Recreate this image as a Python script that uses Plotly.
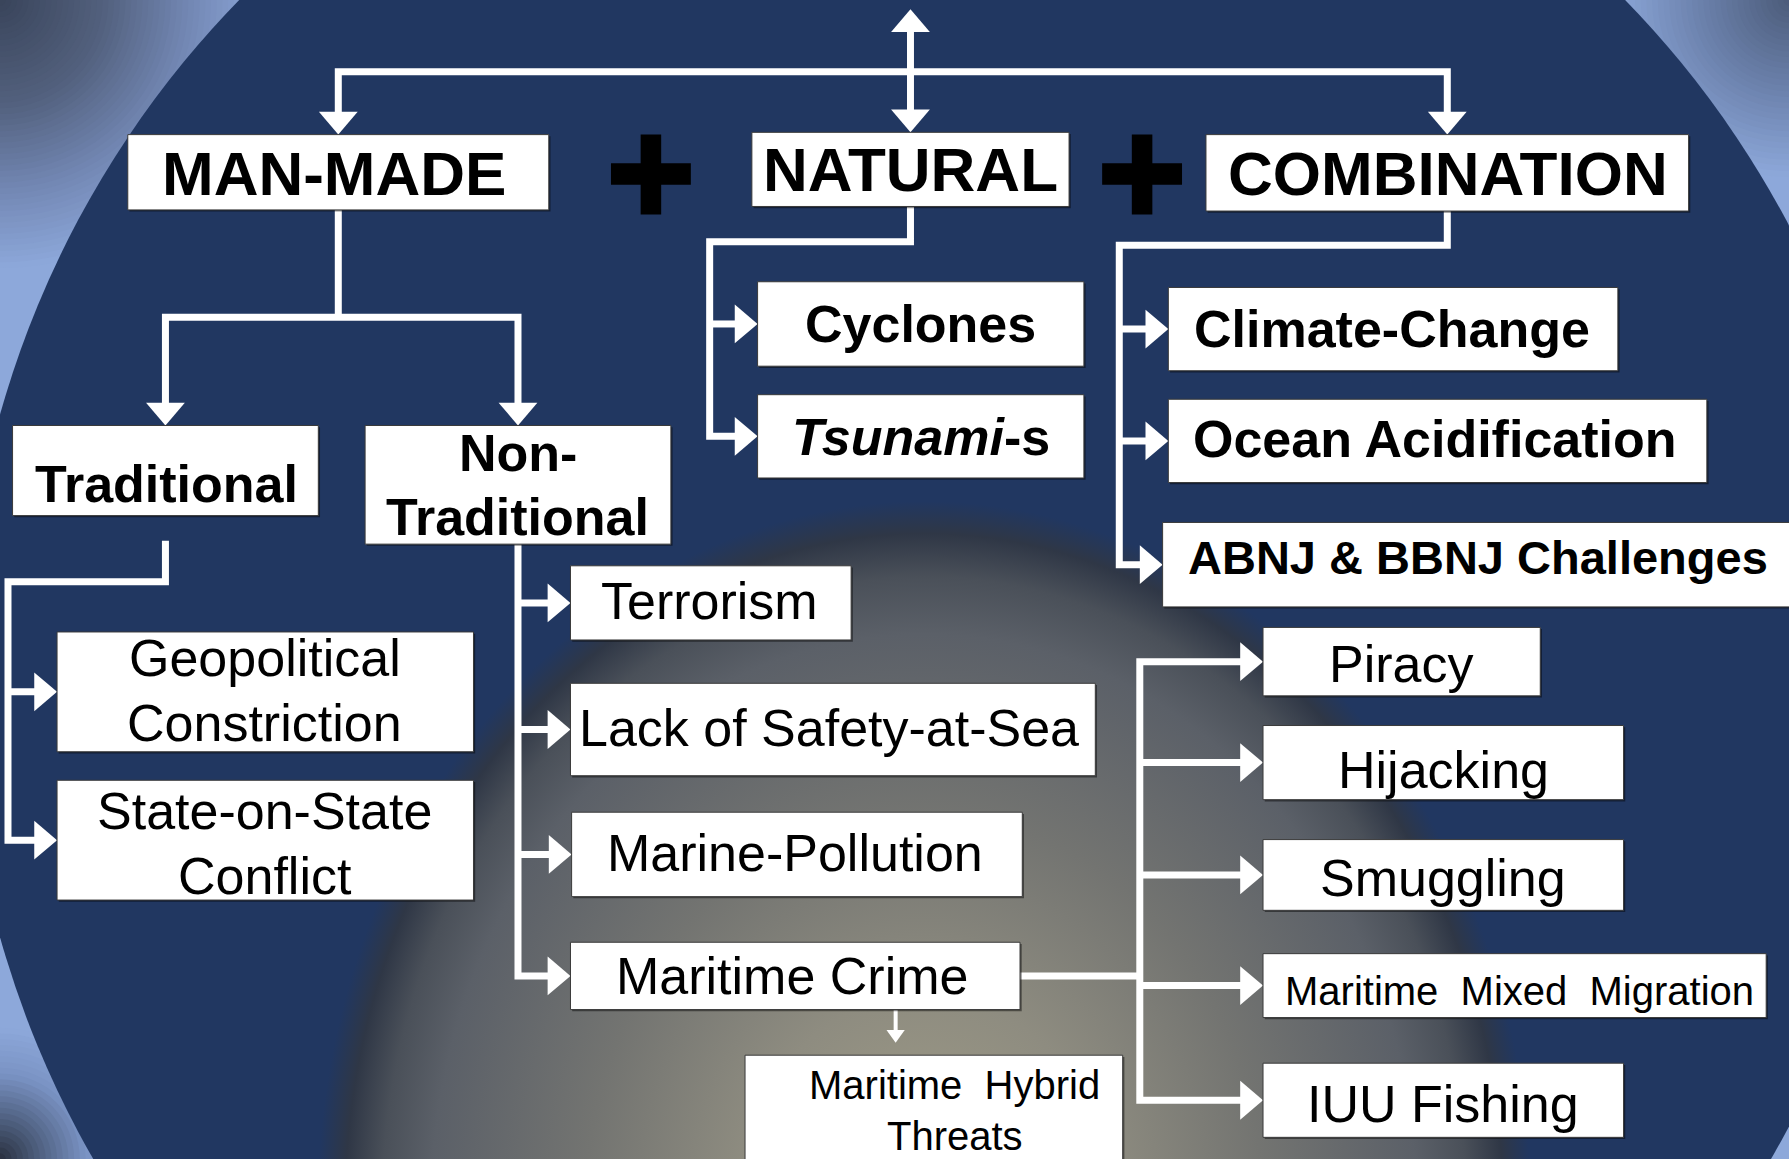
import plotly.graph_objects as go

# ---------------- colours ----------------
NAVY = "#213761"
LIGHT = "#8da8da"
WHITE = "#ffffff"
FONT = "Liberation Sans, Arial, sans-serif"

# ---------------- nodes (boxes) ----------------
box_names = ["manmade", "natural", "combination", "cyclones", "tsunami", "climate", "ocean", "abnj",
             "traditional", "nontrad", "geo", "state", "terrorism", "lack", "marine", "crime",
             "piracy", "hijacking", "smuggling", "mixed", "iuu", "hybrid"]
box_x0 = [112, 659, 1057, 664, 664, 1024, 1024, 1019, 11, 320, 50, 50, 500, 500, 501, 500,
          1107, 1107, 1107, 1107, 1107, 653]
box_x1 = [481, 937, 1480, 950, 950, 1418, 1496, 1575, 279, 588, 415, 415, 746, 960, 896, 894,
          1350, 1423, 1423, 1548, 1423, 984]
box_y0 = [118, 116, 118, 247, 346, 252, 350, 458, 373, 373, 554, 684, 496, 599, 712, 826,
          550, 636, 736, 836, 932, 925]
box_y1 = [184, 181, 185, 321, 419, 325, 423, 532, 452, 477, 659, 789, 561, 680, 786, 885,
          610, 701, 798, 892, 997, 1030]

# ---------------- labels ----------------
box_lines = [["MAN-MADE"], ["NATURAL"], ["COMBINATION"], ["Cyclones"], ["<i>Tsunami</i>-s"],
             ["Climate-Change"], ["Ocean Acidification"], ["ABNJ &amp; BBNJ Challenges"],
             ["Traditional"], ["Non-", "Traditional"], ["Geopolitical", "Constriction"],
             ["State-on-State", "Conflict"], ["Terrorism"], ["Lack of Safety-at-Sea"],
             ["Marine-Pollution"], ["Maritime Crime"], ["Piracy"], ["Hijacking"], ["Smuggling"],
             ["Maritime  Mixed  Migration"], ["IUU Fishing"], ["Maritime  Hybrid", "Threats"]]
text_cx = [293, 798, 1269, 807, 807, 1220, 1258, 1295, 146, 454, 232, 232, 622, 727, 697, 694,
           1228, 1265, 1265, 1332, 1265, 837]
text_cy = [[152], [149], [152], [284], [383], [288], [385], [489], [424.5], [397.5, 453],
           [577, 634], [711, 768], [527], [638], [748], [856], [582], [675], [770], [869],
           [968], [951, 996]]
text_size = [62, 62, 62, 52, 52, 52, 52, 47, 52, 52, 52, 52, 52, 52, 52, 52, 52, 52, 52, 40, 52, 40]
text_bold = [True] * 10 + [False] * 12

# ---------------- background: navy disc, shaded corners, warm glow ----------------
disc_cx, disc_cy, disc_r = 817, 592.5, 848.5
corner_x = [0, 1568, 0]
corner_y = [0, 0, 1016]
corner_stops = [
    [(0, "#39445a"), (90, "#52607d"), (170, "#7489b6"), (235, LIGHT)],
    [(0, "#4c5c7a"), (80, "#6c82ad"), (155, LIGHT)],
    [(0, "#29303e"), (35, "#4f6080"), (75, "#7a93c4"), (115, LIGHT)],
]
glow_cx, glow_cy, glow_rx, glow_ry = 810, 1060, 540, 630

B = {n: (x0, x1, y0, y1) for n, x0, x1, y0, y1 in zip(box_names, box_x0, box_x1, box_y0, box_y1)}


def cxb(n):
    return (B[n][0] + B[n][1]) / 2


def cyb(n):
    return (B[n][2] + B[n][3]) / 2


def left(n):
    return B[n][0]


def right(n):
    return B[n][1]


def top(n):
    return B[n][2]


def bottom(n):
    return B[n][3]


def hex2rgb(h):
    h = h.lstrip("#")
    return [int(h[i:i + 2], 16) for i in (0, 2, 4)]


def stop_color(stops, d):
    for (d0, c0), (d1, c1) in zip(stops[:-1], stops[1:]):
        if d0 <= d <= d1:
            t = (d - d0) / (d1 - d0)
            a, b = hex2rgb(c0), hex2rgb(c1)
            return "rgb({},{},{})".format(*[round(a[i] + (b[i] - a[i]) * t) for i in range(3)])
    return stops[-1][1]


fig = go.Figure()
shapes = []

# shaded corners: stepped concentric discs (largest / lightest first)
for cx0, cy0, stops in zip(corner_x, corner_y, corner_stops):
    rmax = stops[-1][0]
    step = 5
    r = rmax
    while r > 0:
        shapes.append(dict(type="circle", xref="x", yref="y", x0=cx0 - r, x1=cx0 + r, y0=cy0 - r, y1=cy0 + r,
                           fillcolor=stop_color(stops, r - step / 2), line=dict(width=0), layer="below"))
        r -= step

# navy disc
shapes.append(dict(type="circle", xref="x", yref="y",
                   x0=disc_cx - disc_r, x1=disc_cx + disc_r, y0=disc_cy - disc_r, y1=disc_cy + disc_r,
                   fillcolor=NAVY, line=dict(width=0), layer="below"))

# warm glow in lower middle
fig.add_trace(go.Scatter(
    x=[glow_cx - glow_rx, glow_cx + glow_rx, glow_cx + glow_rx, glow_cx - glow_rx, glow_cx - glow_rx],
    y=[glow_cy - glow_ry, glow_cy - glow_ry, glow_cy + glow_ry, glow_cy + glow_ry, glow_cy - glow_ry],
    mode="lines", fill="toself", line=dict(width=0, color="rgba(0,0,0,0)"),
    fillgradient=dict(type="radial", colorscale=[
        [0.0, "#a39f88"], [0.3, "#8e8c80"], [0.55, "#737471"], [0.8, "#5b6068"],
        [0.88, "#4a5059"], [0.94, "#2f3746"], [0.985, "rgba(33,55,97,1)"], [1.0, "rgba(33,55,97,0)"]]),
    hoverinfo="skip", showlegend=False))

LW = 7


def poly(points, width=LW):
    d = "M " + " L ".join(f"{x},{y}" for x, y in points)
    shapes.append(dict(type="path", path=d, line=dict(color=WHITE, width=width), layer="above"))


def head(tx, ty, direction, length=20, half=17):
    if direction == "right":
        pts = [(tx, ty), (tx - length, ty - half), (tx - length, ty + half)]
    elif direction == "down":
        pts = [(tx, ty), (tx - half, ty - length), (tx + half, ty - length)]
    else:  # up
        pts = [(tx, ty), (tx - half, ty + length), (tx + half, ty + length)]
    d = "M " + " L ".join(f"{x},{y}" for x, y in pts) + " Z"
    shapes.append(dict(type="path", path=d, fillcolor=WHITE, line=dict(width=0), layer="above"))


# ---------------- connectors ----------------
top_tip, top_bar = 8, 63
nat_x = cxb("natural")
poly([(nat_x, top_tip + 15), (nat_x, top("natural") - 15)])
poly([(cxb("manmade"), top("manmade") - 15), (cxb("manmade"), top_bar),
      (cxb("combination"), top_bar), (cxb("combination"), top("combination") - 15)])
head(nat_x, top_tip, "up")
head(nat_x, top("natural"), "down")
head(cxb("manmade"), top("manmade"), "down")
head(cxb("combination"), top("combination"), "down")

# MAN-MADE branches
mm_bar = 278
poly([(cxb("manmade"), bottom("manmade")), (cxb("manmade"), mm_bar)])
poly([(cxb("traditional"), top("traditional") - 15), (cxb("traditional"), mm_bar),
      (cxb("nontrad"), mm_bar), (cxb("nontrad"), top("nontrad") - 15)])
head(cxb("traditional"), top("traditional"), "down")
head(cxb("nontrad"), top("nontrad"), "down")

# NATURAL branches
nat_bar, nat_trunk = 212, 622
poly([(nat_x, bottom("natural")), (nat_x, nat_bar), (nat_trunk, nat_bar), (nat_trunk, cyb("tsunami")),
      (left("tsunami") - 15, cyb("tsunami"))])
poly([(nat_trunk, cyb("cyclones")), (left("cyclones") - 15, cyb("cyclones"))])
for n in ["cyclones", "tsunami"]:
    head(left(n), cyb(n), "right")

# COMBINATION branches
comb_bar, comb_trunk = 215, 981
poly([(cxb("combination"), bottom("combination")), (cxb("combination"), comb_bar),
      (comb_trunk, comb_bar), (comb_trunk, cyb("abnj")), (left("abnj") - 15, cyb("abnj"))])
for n in ["climate", "ocean"]:
    poly([(comb_trunk, cyb(n)), (left(n) - 15, cyb(n))])
for n in ["climate", "ocean", "abnj"]:
    head(left(n), cyb(n), "right")

# Traditional branches
trad_start, trad_bar, trad_trunk = 474, 510, 7
poly([(cxb("traditional"), trad_start), (cxb("traditional"), trad_bar), (trad_trunk, trad_bar),
      (trad_trunk, cyb("state")), (left("state") - 15, cyb("state"))])
poly([(trad_trunk, cyb("geo")), (left("geo") - 15, cyb("geo"))])
for n in ["geo", "state"]:
    head(left(n), cyb(n), "right")

# Non-Traditional branches
nt_x = cxb("nontrad")
poly([(nt_x, bottom("nontrad")), (nt_x, cyb("crime")), (left("crime") - 15, cyb("crime"))])
for n in ["terrorism", "lack", "marine"]:
    poly([(nt_x, cyb(n)), (left(n) - 15, cyb(n))])
for n in ["terrorism", "lack", "marine", "crime"]:
    head(left(n), cyb(n), "right")

# Maritime crime branches
mc_trunk = 999
poly([(right("crime"), cyb("crime")), (mc_trunk, cyb("crime"))])
poly([(left("piracy") - 15, cyb("piracy")), (mc_trunk, cyb("piracy")), (mc_trunk, cyb("iuu")),
      (left("iuu") - 15, cyb("iuu"))])
for n in ["hijacking", "smuggling", "mixed"]:
    poly([(mc_trunk, cyb(n)), (left(n) - 15, cyb(n))])
for n in ["piracy", "hijacking", "smuggling", "mixed", "iuu"]:
    head(left(n), cyb(n), "right")

# Hybrid threats
hy_x = 785
poly([(hy_x, bottom("crime")), (hy_x, top("hybrid") - 18)], width=4)
head(hy_x, top("hybrid") - 11, "down", length=11, half=8)

# ---------------- boxes ----------------
for n in box_names:
    x0, x1, y0, y1 = B[n]
    shapes.append(dict(type="rect", x0=x0 + 1.5, x1=x1 + 1.5, y0=y0 + 1.5, y1=y1 + 1.5,
                       fillcolor="rgba(0,0,0,0.45)", line=dict(width=0), layer="above"))
    shapes.append(dict(type="rect", x0=x0, x1=x1, y0=y0, y1=y1, fillcolor=WHITE,
                       line=dict(color="#3a3a3a", width=1), layer="above"))

# ---------------- plus signs ----------------
for pcx in [570.5, 1001]:
    shapes.append(dict(type="rect", x0=pcx - 35, x1=pcx + 35, y0=143, y1=162, fillcolor="#000000",
                       line=dict(width=0), layer="above"))
    shapes.append(dict(type="rect", x0=pcx - 9, x1=pcx + 9, y0=118, y1=188, fillcolor="#000000",
                       line=dict(width=0), layer="above"))

# ---------------- text ----------------
annotations = []
for lines, tx, tys, size, bold in zip(box_lines, text_cx, text_cy, text_size, text_bold):
    for line, ty in zip(lines, tys):
        txt = f"<b>{line}</b>" if bold else line
        annotations.append(dict(x=tx, y=ty, xref="x", yref="y", text=txt, showarrow=False,
                                xanchor="center", yanchor="middle",
                                font=dict(family=FONT, size=size, color="#000000")))

fig.update_layout(
    width=1789, height=1159, margin=dict(l=0, r=0, t=0, b=0),
    paper_bgcolor=LIGHT, plot_bgcolor=LIGHT,
    xaxis=dict(range=[0, 1568], visible=False, fixedrange=True),
    yaxis=dict(range=[1016, 0], visible=False, fixedrange=True),
    shapes=shapes, annotations=annotations, showlegend=False,
)

fig.write_html("out.html", config={"displayModeBar": False},
               post_script="document.body.style.margin='0';document.body.style.overflow='hidden';")
